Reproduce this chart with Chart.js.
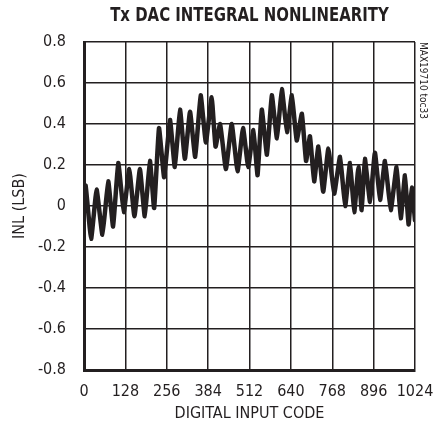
<!DOCTYPE html>
<html>
<head>
<meta charset="utf-8">
<script src="https://cdn.jsdelivr.net/npm/chart.js@4"></script>
<style>
  html, body { margin: 0; padding: 0; background: #fff; }
  #wrap { width: 442px; height: 433px; }
</style>
</head>
<body>
<div id="wrap"><canvas id="inlChart" width="442" height="433"></canvas></div>
<script>
// digital input code at each peak / trough
const codes = [0, 5, 22, 39, 57, 75, 90, 106, 123, 140, 156, 173, 188, 204, 217, 232, 248, 266, 281, 297,
    312, 328, 344, 361, 377, 395, 407, 421, 439, 457, 475, 492, 508, 524, 537, 550, 566, 581, 597, 612,
    628, 643, 658, 674, 687, 699, 712, 725, 740, 756, 774, 792, 808, 823, 836, 849, 859, 869, 885, 900,
    916, 931, 949, 967, 980, 993, 1004, 1014, 1024];
// INL in LSB
const inl = [0.02, 0.10, -0.16, 0.08, -0.14, 0.12, -0.10, 0.21, -0.03, 0.18, -0.05, 0.18, -0.05, 0.22, -0.01, 0.38, 0.14, 0.42, 0.19, 0.47,
    0.23, 0.46, 0.24, 0.54, 0.31, 0.53, 0.29, 0.40, 0.18, 0.40, 0.17, 0.38, 0.19, 0.37, 0.15, 0.47, 0.25, 0.54, 0.33, 0.57,
    0.36, 0.54, 0.32, 0.45, 0.22, 0.34, 0.12, 0.29, 0.07, 0.28, 0.06, 0.24, 0.00, 0.21, -0.03, 0.19, -0.02, 0.23, 0.02, 0.26,
    0.03, 0.22, -0.02, 0.19, -0.06, 0.15, -0.09, 0.09, -0.07];
const xTicks = [0, 128, 256, 384, 512, 640, 768, 896, 1024];
const yTicks = [-0.8, -0.6, -0.4, -0.2, 0, 0.2, 0.4, 0.6, 0.8];

const narrow = "'Liberation Sans Narrow', 'DejaVu Sans Condensed', 'Arial Narrow', sans-serif";
const ink = '#231f20';

// bold condensed heading over the plot and the small rotated tag at the right edge
const captions = {
    id: 'captions',
    afterDraw(chart) {
        const ctx = chart.ctx;
        const area = chart.chartArea;
        ctx.save();
        ctx.fillStyle = ink;
        ctx.font = "bold 20px " + narrow;
        ctx.textAlign = 'center';
        ctx.textBaseline = 'middle';
        ctx.translate((area.left + area.right) / 2, 16);
        ctx.scale(0.83, 1);
        ctx.fillText('Tx DAC INTEGRAL NONLINEARITY', 0, 0);
        ctx.restore();

        ctx.save();
        ctx.translate(area.right + 8, area.top);
        ctx.rotate(Math.PI / 2);
        ctx.font = "10px " + narrow;
        ctx.fillStyle = ink;
        ctx.textAlign = 'left';
        ctx.textBaseline = 'middle';
        ctx.fillText('MAX19710 toc33', 0, 0);
        ctx.restore();
    }
};

const ctx = document.getElementById('inlChart');

new Chart(ctx, {
    type: 'line',
    data: {
        datasets: [{
            data: codes.map((c, i) => ({ x: c, y: inl[i] })),
            borderColor: ink,
            borderWidth: 4.5,
            borderCapStyle: 'round',
            borderJoinStyle: 'round',
            pointRadius: 0,
            tension: 0.12,
            fill: false
        }]
    },
    options: {
        responsive: false,
        animation: false,
        layout: {
            padding: { left: 0, right: 27, top: 42, bottom: 0 }
        },
        scales: {
            x: {
                type: 'linear',
                min: 0,
                max: 1024,
                afterBuildTicks: (scale) => { scale.ticks = xTicks.map(v => ({ value: v })); },
                afterFit: (scale) => {
                    scale.height = 63;
                    scale.paddingLeft = 0;
                    scale.paddingRight = 0;
                },
                grid: { color: ink, lineWidth: 1.5, drawTicks: false },
                border: { color: ink, width: 3 },
                ticks: {
                    color: ink,
                    padding: 12,
                    autoSkip: false,
                    maxRotation: 0,
                    font: { family: narrow, size: 16 },
                    callback: (v) => String(v)
                },
                title: {
                    display: true,
                    text: 'DIGITAL INPUT CODE',
                    color: ink,
                    font: { family: narrow, size: 16 },
                    padding: { top: 0, bottom: 10 }
                }
            },
            y: {
                min: -0.8,
                max: 0.8,
                afterBuildTicks: (scale) => { scale.ticks = yTicks.map(v => ({ value: v })); },
                afterFit: (scale) => { scale.width = 84; },
                grid: { color: ink, lineWidth: 1.5, drawTicks: false },
                border: { color: ink, width: 3 },
                ticks: {
                    color: ink,
                    padding: 18,
                    autoSkip: false,
                    font: { family: narrow, size: 16 },
                    callback: (v) => (Math.abs(v) < 1e-9 ? '0' : v.toFixed(1))
                },
                title: {
                    display: true,
                    text: 'INL (LSB)',
                    color: ink,
                    font: { family: narrow, size: 16 },
                    padding: { top: 10, bottom: 0 }
                }
            }
        },
        plugins: {
            legend: { display: false },
            tooltip: { enabled: false },
            title: { display: false }
        }
    },
    plugins: [captions]
});
</script>
</body>
</html>
